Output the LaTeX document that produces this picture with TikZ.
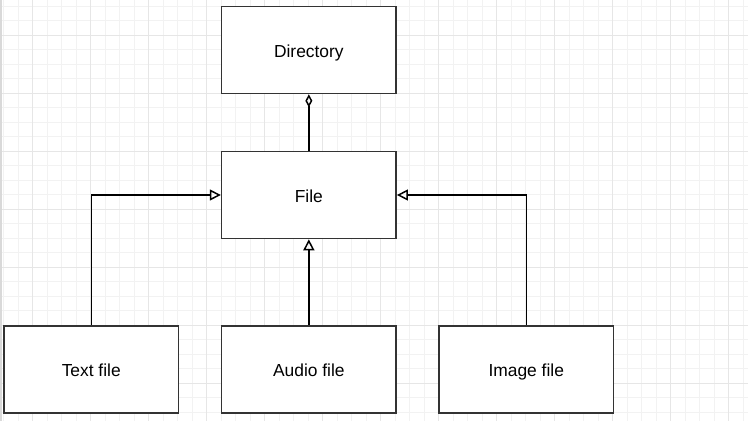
\documentclass[tikz,border=0pt]{standalone}
\usepackage{fontspec}
\setmainfont{Liberation Sans}
\usetikzlibrary{arrows.meta}
\definecolor{minorgrid}{HTML}{F2F2F2}
\definecolor{majorgrid}{HTML}{E6E6E6}
\definecolor{boxline}{HTML}{333333}
\begin{document}
\begin{tikzpicture}[x=1pt,y=-1pt,
  minorline/.style={draw=minorgrid,line width=1pt},
  majorline/.style={draw=majorgrid,line width=1pt},
  classbox/.style={draw=boxline,fill=white,line width=1.6pt,minimum width=174.5pt,minimum height=87pt,inner sep=0pt,text height=14.6pt,text depth=0pt,font=\fontsize{17.4}{20}\selectfont},
  inherit/.style={draw=black,line width=1.5pt,-{Triangle[open,length=11pt,width=11pt]}},
  aggreg/.style={draw=black,line width=1.5pt,-{Diamond[open,length=13pt,width=7pt]}}]
\useasboundingbox (0,0) rectangle (748,421);
\fill[white] (0,0) rectangle (748,421);
\foreach \k in {0,...,51}{\pgfmathsetmacro\xx{3.5+14.5*\k}\draw[minorline] (\xx,0) -- (\xx,421);}
\foreach \k in {0,...,28}{\pgfmathsetmacro\yy{6+14.5*\k}\draw[minorline] (0,\yy) -- (748,\yy);}
\foreach \k in {0,...,12}{\pgfmathsetmacro\xx{32.5+58*\k}\draw[majorline] (\xx,0) -- (\xx,421);}
\foreach \k in {0,...,6}{\pgfmathsetmacro\yy{35+58*\k}\draw[majorline] (0,\yy) -- (748,\yy);}
\fill[gray!30] (0,0) rectangle (1.8,421);
\node[classbox] (dir) at (308.85,50) {Directory};
\node[classbox] (file) at (308.85,195) {File};
\node[classbox] (text) at (91.25,369.25) {Text file};
\node[classbox] (audio) at (308.85,369.25) {Audio file};
\node[classbox] (img) at (526.25,369.25) {Image file};
\draw[aggreg] (file.north) -- (dir.south);
\draw[inherit] (text.north) |- (file.west);
\draw[inherit] (audio.north) -- (file.south);
\draw[inherit] (img.north) |- (file.east);
\end{tikzpicture}
\end{document}
